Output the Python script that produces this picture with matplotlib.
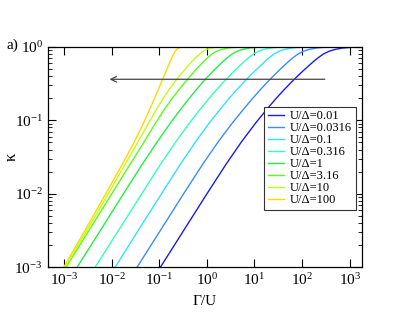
import numpy as np
import matplotlib
matplotlib.use("Agg")
import matplotlib.pyplot as plt

plt.rcParams['font.family'] = ['Liberation Serif', 'DejaVu Serif']
plt.rcParams['mathtext.fontset'] = 'stix'

kappa_log = [-3, -2.5, -2, -1.6, -1.3, -1.05, -0.85, -0.7, -0.58, -0.48, -0.4,
             -0.33, -0.26, -0.2, -0.15, -0.1, -0.065, -0.04, -0.02, -0.008, 0]

# log10(Gamma/U) of each curve at those levels
u_labels = ['0.01', '0.0316', '0.1', '0.316', '1', '3.16', '10', '100']
x_001 = [-0.98, -0.49, 0.0, 0.40, 0.72, 1.01, 1.26, 1.46, 1.63, 1.78, 1.905,
         2.02, 2.14, 2.245, 2.34, 2.45, 2.56, 2.68, 2.84, 3.05, 3.45]
x_00316 = [-1.47, -0.98, -0.49, -0.09, 0.23, 0.52, 0.77, 0.965, 1.13, 1.275, 1.395,
           1.505, 1.62, 1.72, 1.81, 1.915, 2.02, 2.135, 2.29, 2.49, 2.88]
x_01 = [-1.93, -1.445, -0.955, -0.56, -0.245, 0.035, 0.28, 0.47, 0.635, 0.78, 0.9,
        1.01, 1.125, 1.225, 1.31, 1.41, 1.51, 1.62, 1.77, 1.96, 2.35]
x_0316 = [-2.35, -1.86, -1.37, -0.975, -0.66, -0.38, -0.14, 0.05, 0.21, 0.35, 0.47,
          0.575, 0.69, 0.79, 0.875, 0.975, 1.075, 1.18, 1.33, 1.52, 1.9]
x_1 = [-2.73, -2.24, -1.755, -1.36, -1.05, -0.78, -0.55, -0.37, -0.215, -0.085, 0.03,
       0.135, 0.245, 0.345, 0.43, 0.53, 0.63, 0.735, 0.885, 1.08, 1.45]
x_316 = [-2.96, -2.48, -2.0, -1.615, -1.325, -1.09, -0.89, -0.725, -0.58, -0.455, -0.35,
         -0.255, -0.155, -0.065, 0.015, 0.105, 0.195, 0.295, 0.435, 0.625, 0.98]
x_10 = [-2.98, -2.525, -2.075, -1.72, -1.455, -1.235, -1.06, -0.915, -0.79, -0.675, -0.58,
        -0.49, -0.395, -0.31, -0.235, -0.15, -0.08, -0.015, 0.07, 0.2, 0.5]
x_100 = [-3.01, -2.565, -2.125, -1.78, -1.53, -1.34, -1.2, -1.1, -1.02, -0.955, -0.9,
         -0.855, -0.81, -0.77, -0.735, -0.7, -0.67, -0.64, -0.6, -0.55, -0.4]
curves = [x_001, x_00316, x_01, x_0316, x_1, x_316, x_10, x_100]
colors = ['#1c1ce8', '#3a8cff', '#33e0ff', '#33ffc0', '#22f044', '#55ff1a', '#c0ff10', '#ffd800']

# arrow (from Gamma/U, to Gamma/U, at kappa)
arrow_from = 300
arrow_to = 0.009
arrow_k = 0.36

fig = plt.figure(figsize=(4.07, 3.15), dpi=100)
ax = fig.add_axes([0.117, 0.151, 0.772, 0.701])

for xs, c, lab in zip(curves, colors, u_labels):
    ax.plot(np.power(10.0, xs), np.power(10.0, kappa_log), color=c, lw=1.0,
            label='U/\u0394=' + lab)

ax.annotate('', xy=(arrow_to, arrow_k), xytext=(arrow_from, arrow_k),
            arrowprops=dict(arrowstyle='->', color='#444444', lw=0.9,
                            shrinkA=0, shrinkB=0))

ax.set_xscale('log')
ax.set_yscale('log')
ax.set_xlim(4.5e-4, 1.8e3)
ax.set_ylim(1e-3, 1)
ax.set_xticks([1e-3, 1e-2, 1e-1, 1, 10, 100, 1000])
ax.set_yticks([1e-3, 1e-2, 1e-1, 1])
ax.tick_params(which='both', direction='in', top=True, right=True, labelsize=11)
ax.tick_params(which='major', length=6, width=0.8)
ax.tick_params(which='minor', length=3, width=0.6)
for s in ax.spines.values():
    s.set_linewidth(0.9)

ax.set_xlabel('\u0393/U', fontsize=11)
ax.xaxis.set_label_coords(0.5, -0.125)
ax.set_ylabel('\u03ba', fontsize=12)
ax.yaxis.set_label_coords(-0.09, 0.5)
fig.text(0.017, 0.857, 'a)', fontsize=11, va='center')

leg = ax.legend(loc='lower right', bbox_to_anchor=(0.982, 0.26), fontsize=9,
                handlelength=1.3, handletextpad=0.5, labelspacing=0.0,
                borderpad=0.3, borderaxespad=0, fancybox=False, framealpha=1)
leg.get_frame().set_edgecolor('#333333')
leg.get_frame().set_linewidth(0.8)

fig.savefig('out.png', dpi=100)
